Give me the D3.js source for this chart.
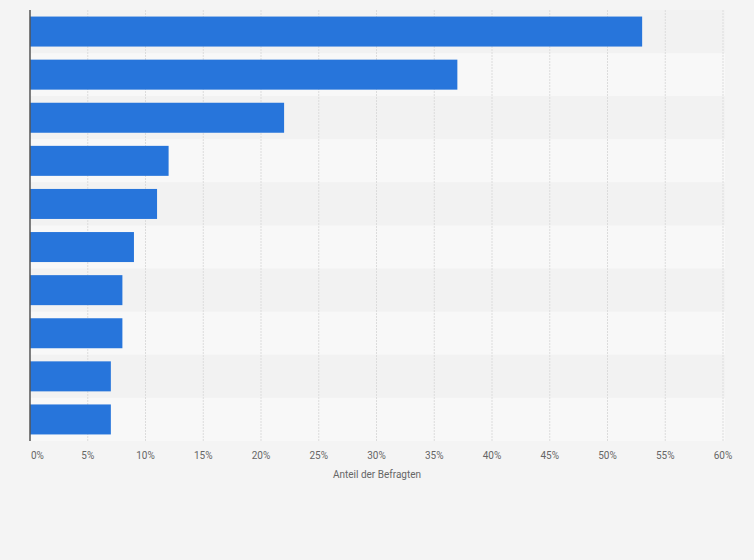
<!DOCTYPE html>
<html><head><meta charset="utf-8">
<script src="https://cdn.jsdelivr.net/npm/d3@7"></script>
<style>body{margin:0;background:#f4f4f4;font-family:Roboto,Arial,sans-serif}</style>
</head><body><svg></svg>
<script>
const categories = ['A','B','C','D','E','F','G','H','I','J'];
const values = [53, 37, 22, 12, 11, 9, 8, 8, 7, 7];
const ticks = [0,5,10,15,20,25,30,35,40,45,50,55,60];

const w = 754, h = 560;
const mLeft = 30, mRight = 723, mTop = 10, mBottom = 441;
const svg = d3.select('svg').attr('width', w).attr('height', h);
svg.append('rect').attr('width', w).attr('height', h).attr('fill', '#f4f4f4');

const x = d3.scaleLinear().domain([0, 60]).range([mLeft, mRight]);
const y = d3.scaleBand().domain(categories).range([mTop, mBottom]);

svg.selectAll('rect.band').data(categories).join('rect').attr('class', 'band')
  .attr('x', mLeft).attr('width', 725 - mLeft)
  .attr('y', d => y(d)).attr('height', y.bandwidth())
  .attr('fill', (d, i) => i % 2 ? '#f8f8f8' : '#f2f2f2');

svg.selectAll('line.grid').data(ticks.slice(1)).join('line').attr('class', 'grid')
  .attr('x1', d => x(d)).attr('x2', d => x(d)).attr('y1', mTop).attr('y2', mBottom)
  .attr('stroke', '#dcdcdc').attr('stroke-dasharray', '2,1');

const barH = 30;
svg.selectAll('rect.bar').data(values).join('rect').attr('class', 'bar')
  .attr('x', x(0)).attr('y', (d, i) => y(categories[i]) + (y.bandwidth() - barH) / 2)
  .attr('width', d => x(d) - x(0)).attr('height', barH).attr('fill', '#2775db');

svg.append('line').attr('x1', mLeft).attr('x2', mLeft).attr('y1', mTop).attr('y2', mBottom)
  .attr('stroke', '#555').attr('stroke-width', 1.5);

svg.selectAll('text.tick').data(ticks).join('text').attr('class', 'tick')
  .attr('x', d => d === 0 ? x(d) + 1 : x(d)).attr('y', 459)
  .attr('text-anchor', d => d === 0 ? 'start' : 'middle')
  .attr('font-size', 10).attr('fill', '#666').text(d => d + '%');

svg.append('text').attr('x', 377).attr('y', 478).attr('text-anchor', 'middle')
  .attr('font-size', 10).attr('fill', '#666').text('Anteil der Befragten');
</script></body></html>
